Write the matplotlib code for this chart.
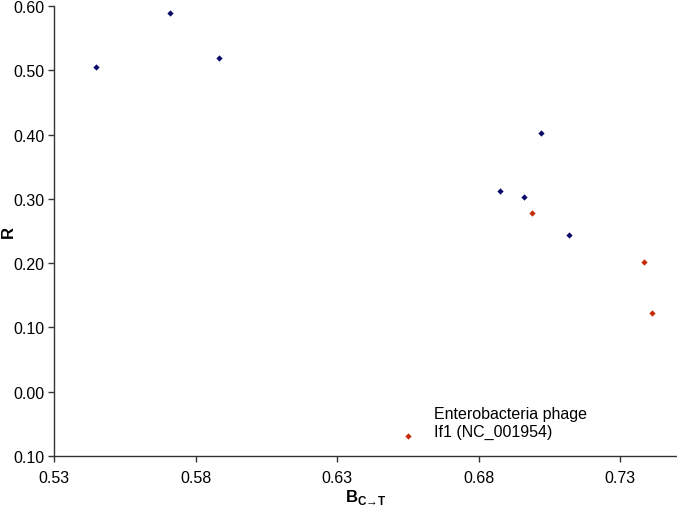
import matplotlib.pyplot as plt
from matplotlib.ticker import FuncFormatter

plt.rcParams['font.family'] = ['Liberation Sans', 'DejaVu Sans']
plt.rcParams['mathtext.fontset'] = 'custom'
plt.rcParams['mathtext.rm'] = 'Liberation Sans'
plt.rcParams['mathtext.bf'] = 'Liberation Sans:bold'

# values
blue_x = [0.5446, 0.5709, 0.5881, 0.6876, 0.6961, 0.7019, 0.7117]
blue_y = [0.506, 0.590, 0.519, 0.312, 0.303, 0.402, 0.243]
red_x = [0.6986, 0.7383, 0.7413, 0.6548]
red_y = [0.278, 0.201, 0.122, -0.069]

x_ticks = [0.53, 0.58, 0.63, 0.68, 0.73]
y_ticks = [0.60, 0.50, 0.40, 0.30, 0.20, 0.10, 0.00, -0.10]

note = "Enterobacteria phage\nIf1 (NC_001954)"

fig = plt.figure(figsize=(6.77, 5.10), dpi=100)
ax = fig.add_axes([0.0802, 0.1045, 0.9198, 0.8812])

ax.plot(blue_x, blue_y, 'D', color='#0b0b6e', markersize=3.2, markeredgewidth=0)
ax.plot(red_x, red_y, 'D', color='#c82a08', markersize=3.2, markeredgewidth=0)

ax.text(0.6642, -0.0483, note, fontsize=11.5, va='center', ha='left', linespacing=1.3)

ax.set_xlim(0.53, 0.75)
ax.set_ylim(-0.10, 0.60)
ax.set_xticks(x_ticks)
ax.set_yticks(y_ticks)
ax.xaxis.set_major_formatter(FuncFormatter(lambda v, p: f"{v:.2f}"))
# the reference shows the bottom label without its minus sign
ax.yaxis.set_major_formatter(FuncFormatter(lambda v, p: f"{abs(v):.2f}"))
ax.tick_params(direction='out', length=4, width=1, labelsize=11.5, color='#333333')
ax.tick_params(axis='x', pad=6)
ax.tick_params(axis='y', pad=3)

for s in ['top', 'right']:
    ax.spines[s].set_visible(False)
for s in ['left', 'bottom']:
    ax.spines[s].set_color('#333333')
    ax.spines[s].set_linewidth(1)

ax.set_xlabel(r'$\mathbf{B}_{\mathbf{C→T}}$', fontsize=12, labelpad=2)
ax.set_ylabel('R', fontsize=12, fontweight='bold', va='center')
ax.yaxis.set_label_coords(-0.074, 0.5)

fig.savefig('out.png', dpi=100)
